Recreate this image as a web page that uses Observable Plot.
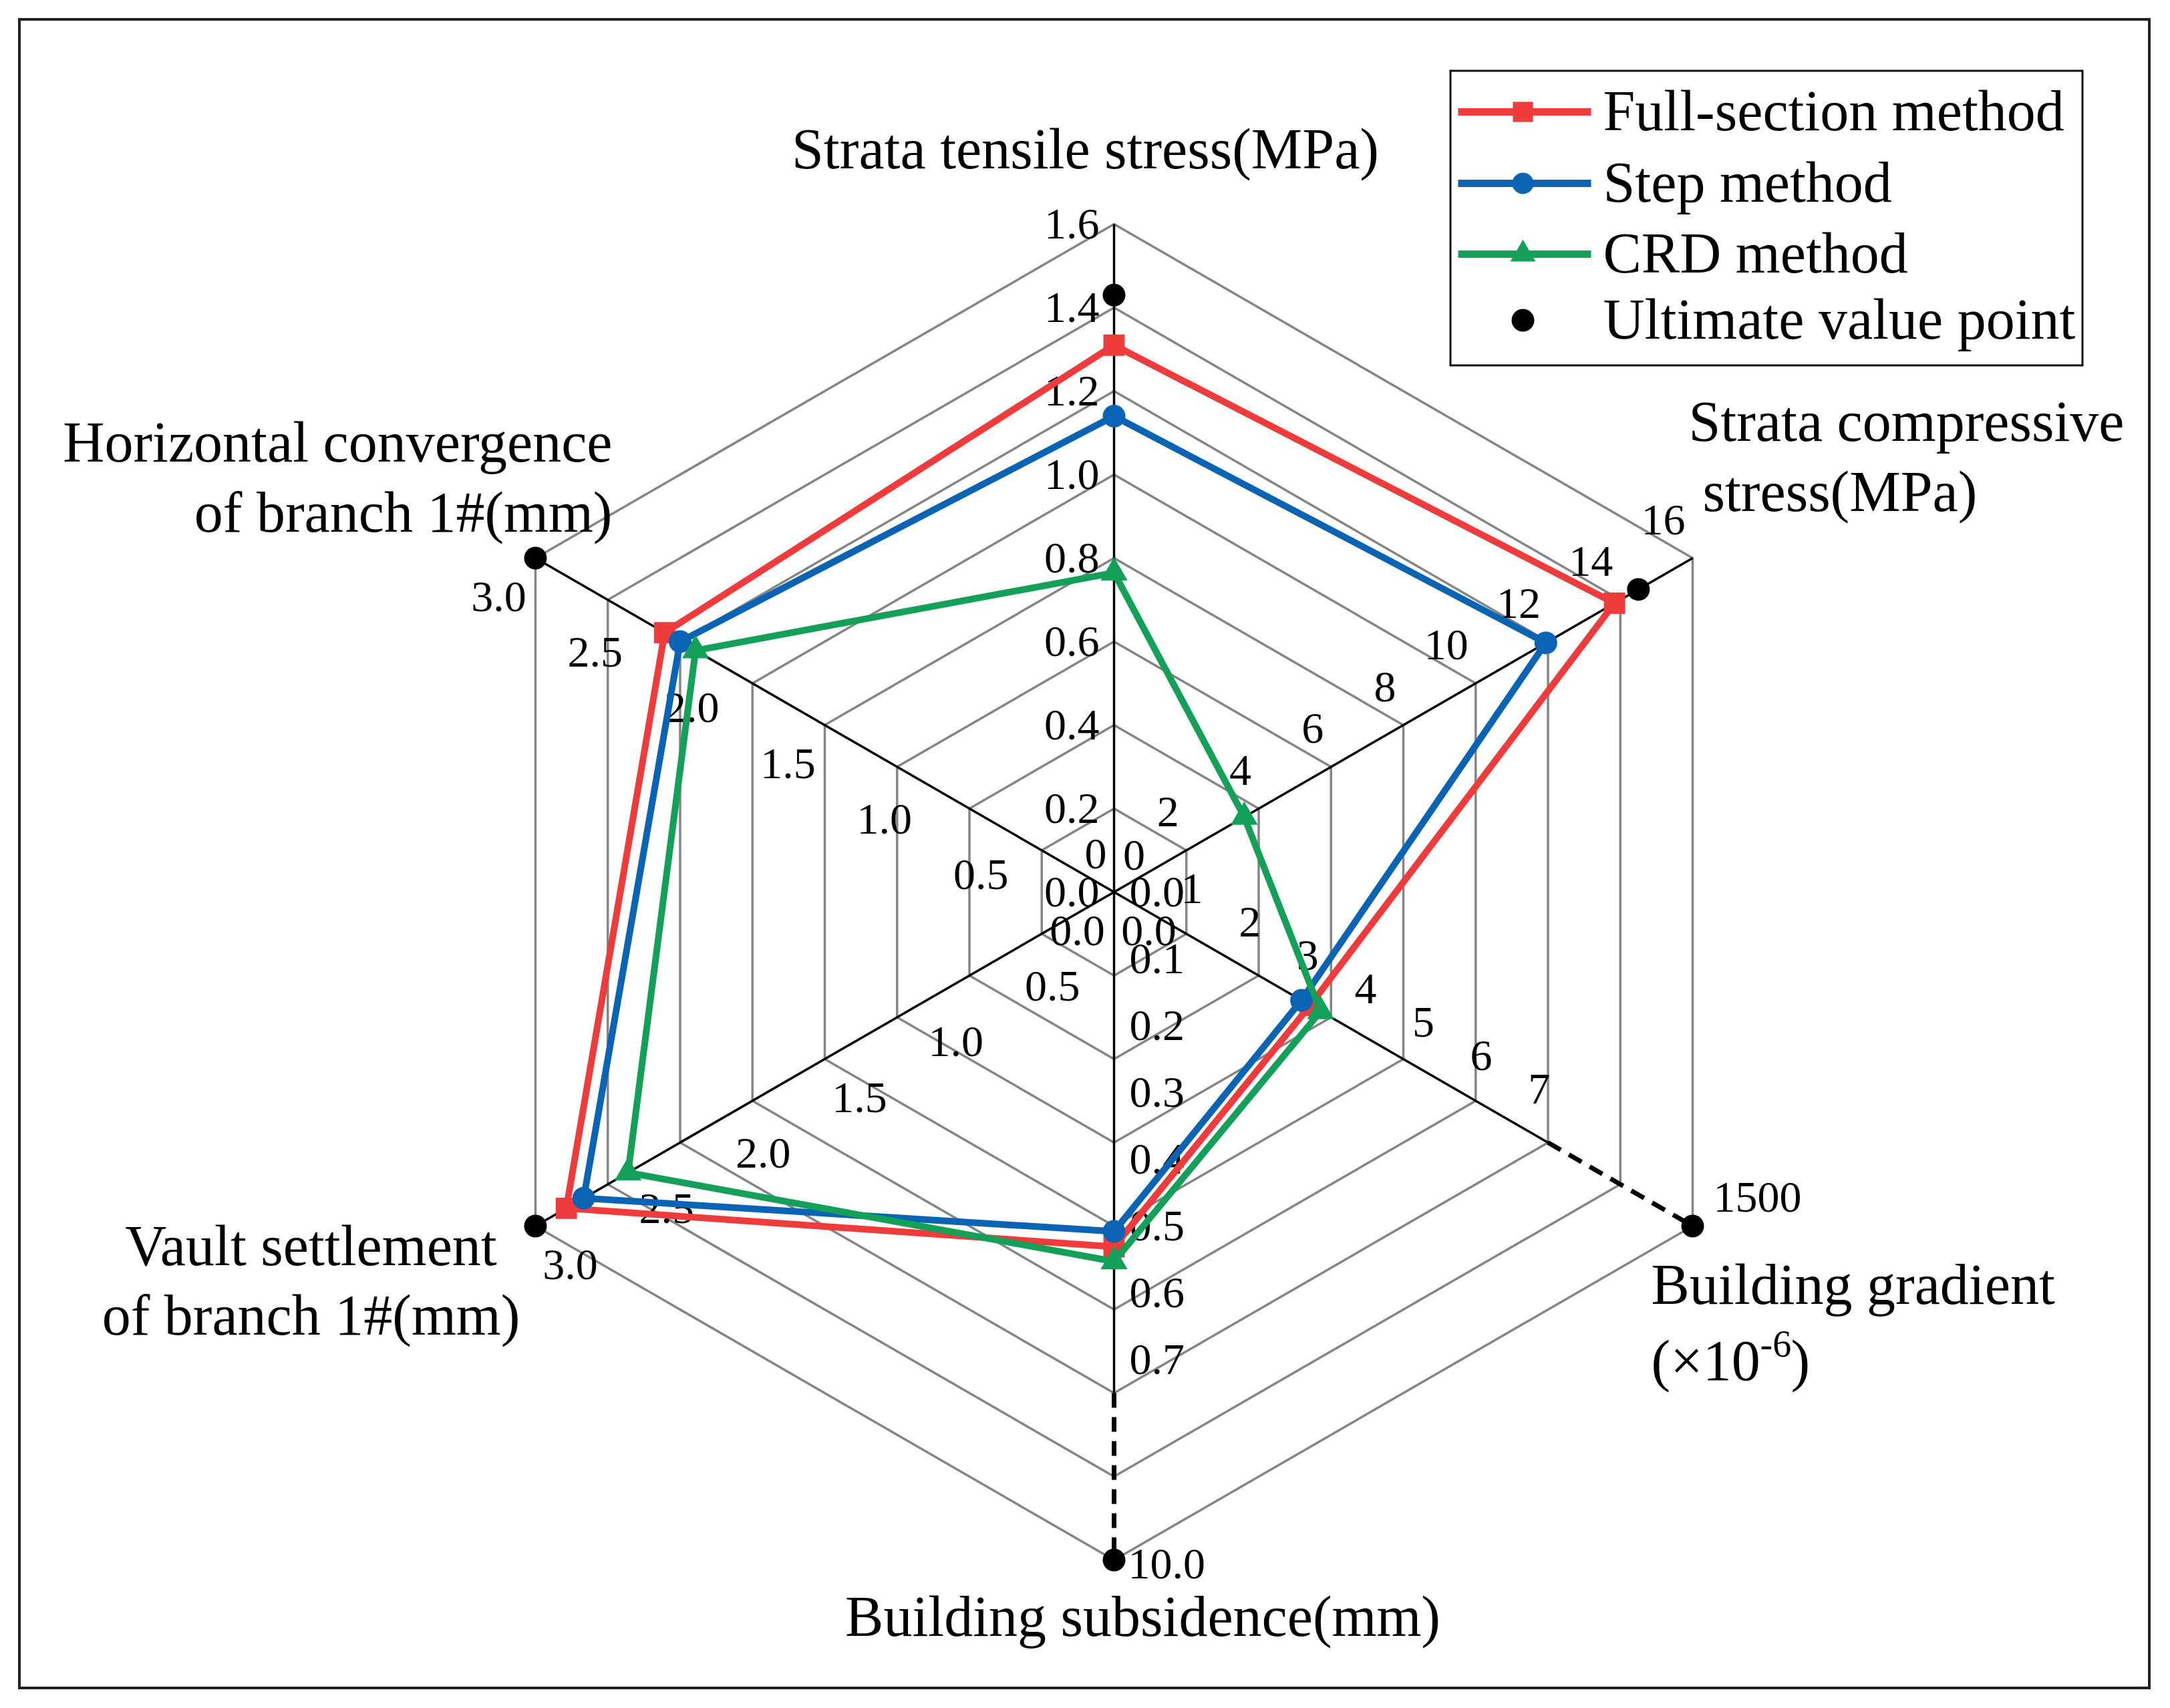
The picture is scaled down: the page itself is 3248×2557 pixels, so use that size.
<!DOCTYPE html>
<html>
<head>
<meta charset="utf-8">
<script src="https://cdn.jsdelivr.net/npm/d3@7"></script>
<script src="https://cdn.jsdelivr.net/npm/@observablehq/plot@0.6"></script>
<style>
  html, body { margin: 0; padding: 0; background: #ffffff; }
  #chart svg { display: block; }
</style>
</head>
<body>
<div id="chart"></div>
<script>
// ================= DATA =================
// Axes, clockwise from the top
const axisKeys = ["tensile", "compressive", "gradient", "subsidence", "vault", "horizontal"];
// value reached at the outer ring of each axis
const axisMax = [1.6, 16, 10, 1.0, 3.0, 3.0];

const seriesNames = ["Full-section method", "Step method", "CRD method"];
const fullSection = [1.31, 13.84, 3.39, 0.531, 2.84, 2.33];
const stepMethod  = [1.14, 11.94, 3.24, 0.508, 2.75, 2.25];
const crdMethod   = [0.765, 3.6, 3.57, 0.553, 2.52, 2.17];
const ultimateName = "Ultimate value point";
const ultimateValues = [1.43, 14.5, 1500, 10.0, 3.0, 3.0];

// tick values of each axis
const ticksTensile     = [0, 0.2, 0.4, 0.6, 0.8, 1.0, 1.2, 1.4, 1.6];
const ticksCompressive = [0, 2, 4, 6, 8, 10, 12, 14, 16];
const ticksGradient    = [0, 1, 2, 3, 4, 5, 6, 7];
const ticksSubsidence  = [0, 0.1, 0.2, 0.3, 0.4, 0.5, 0.6, 0.7];
const ticksVault       = [0, 0.5, 1.0, 1.5, 2.0, 2.5, 3.0];
const ticksHorizontal  = [0, 0.5, 1.0, 1.5, 2.0, 2.5, 3.0];
const tickFormats = [".1f", "d", "d", ".1f", ".1f", ".1f"];

// ================= LAYOUT =================
const W = 3248, H = 2557;
const CX = 1667, CY = 1335, RING = 125, NRINGS = 8;
const FONT = "'Liberation Serif', 'Times New Roman', serif";
const angles = [90, 30, -30, -90, -150, 150].map(d => d * Math.PI / 180);
const breakRing = [null, null, 6, 6, null, null]; // broken (dashed) part of an axis
const X = px => (px - CX) / RING;
const Y = py => (CY - py) / RING;
const ringOf = (i, v) => Math.min(v / axisMax[i], 1) * NRINGS;
const px = (i, r) => r * Math.cos(angles[i]);
const py = (i, r) => r * Math.sin(angles[i]);

const colors = ["#EE3B3B", "#0A63B3", "#15A05A"];
const symbols = ["square", "circle", "triangle"];
const symbolR = [18, 17, 15];
const seriesValues = [fullSection, stepMethod, crdMethod];

// grid hexagons
const grid = [];
for (let r = 1; r <= NRINGS; r++)
  for (let k = 0; k <= 6; k++) grid.push({r, x: px(k % 6, r), y: py(k % 6, r)});

// axis lines
const solidAxes = axisKeys.map((k, i) => ({x1: 0, y1: 0, x2: px(i, breakRing[i] ?? NRINGS), y2: py(i, breakRing[i] ?? NRINGS)}));
const dashedAxes = axisKeys.map((k, i) => i).filter(i => breakRing[i] != null)
  .map(i => ({x1: px(i, breakRing[i]), y1: py(i, breakRing[i]), x2: px(i, NRINGS), y2: py(i, NRINGS)}));

// tick label placement per axis (pixel offsets and anchors)
const tickSets = [ticksTensile, ticksCompressive, ticksGradient, ticksSubsidence, ticksVault, ticksHorizontal];
const tickPlace = [
  {dx: -22, dy: 0,   anchor: "end"},
  {dx: -11, dy: -57, anchor: "end"},
  {dx: 30,  dy: -55, anchor: "middle"},
  {dx: 23,  dy: 0,   anchor: "start"},
  {dx: 52,  dy: 58,  anchor: "middle"},
  {dx: -55, dy: 58,  anchor: "middle"}
];
const tickMarks = tickSets.map((ticks, i) => Plot.text(ticks, {
  x: v => px(i, ringOf(i, v)), y: v => py(i, ringOf(i, v)),
  text: v => d3.format(tickFormats[i])(v),
  dx: tickPlace[i].dx, dy: tickPlace[i].dy, textAnchor: tickPlace[i].anchor,
  fontSize: 66, fontFamily: FONT, fill: "#000"
}));

// labels of ultimate values lying on broken axes
const ultLabelPlace = [null, null, {dx: 31, dy: -43}, {dx: 21, dy: 6}, null, null];
const ultLabels = ultimateValues.map((v, i) => ({i, v})).filter(d => ultLabelPlace[d.i]);
const ultLabelMarks = ultLabels.map(d => Plot.text([d], {
  x: d => px(d.i, ringOf(d.i, d.v)), y: d => py(d.i, ringOf(d.i, d.v)),
  text: d => d.i === 2 ? String(d.v) : d3.format(".1f")(d.v),
  dx: ultLabelPlace[d.i].dx, dy: ultLabelPlace[d.i].dy, textAnchor: "start",
  fontSize: 66, fontFamily: FONT, fill: "#000"
}));

// axis titles (baseline positions, in px)
const titles = [
  {t: "Strata tensile stress(MPa)", x: 1624, y: 251, a: "middle", s: 86},
  {t: "Strata compressive", x: 2527, y: 659, a: "start", s: 86},
  {t: "stress(MPa)", x: 2548, y: 764, a: "start", s: 86},
  {t: "Building gradient", x: 2471, y: 1951, a: "start", s: 86},
  {t: "(×10", x: 2471, y: 2065, a: "start", s: 86},
  {t: "-6", x: 2634, y: 2030, a: "start", s: 56},
  {t: ")", x: 2680, y: 2065, a: "start", s: 86},
  {t: "Building subsidence(mm)", x: 1710, y: 2448, a: "middle", s: 86},
  {t: "Vault settlement", x: 465, y: 1893, a: "middle", s: 86},
  {t: "of branch 1#(mm)", x: 465, y: 1997, a: "middle", s: 86},
  {t: "Horizontal convergence", x: 916, y: 690, a: "end", s: 86},
  {t: "of branch 1#(mm)", x: 916, y: 795, a: "end", s: 86}
];
const titleMarks = titles.map(d => Plot.text([d], {
  x: d => X(d.x), y: d => Y(d.y), text: "t", textAnchor: d.a, lineAnchor: "bottom",
  fontSize: d.s, fontFamily: FONT, fill: "#000"
}));

// series
const seriesMarks = [];
seriesNames.forEach((name, s) => {
  const vals = seriesValues[s];
  const pts = [0, 1, 2, 3, 4, 5, 0].map(i => ({series: name, x: px(i, ringOf(i, vals[i])), y: py(i, ringOf(i, vals[i]))}));
  seriesMarks.push(Plot.line(pts, {x: "x", y: "y", stroke: colors[s], strokeWidth: 10, strokeLinejoin: "round"}));
  seriesMarks.push(Plot.dot(pts.slice(0, 6), {x: "x", y: "y", symbol: symbols[s], r: symbolR[s], fill: colors[s], stroke: "none"}));
});
const ultimatePts = ultimateValues.map((v, i) => ({x: px(i, ringOf(i, v)), y: py(i, ringOf(i, v))}));

// legend (px layout)
const legendBox = {x1: X(2171), x2: X(3117), y1: Y(106), y2: Y(547)};
const legendRows = [167, 274, 380, 479];
const legendItems = seriesNames.map((n, s) => ({name: n, s, y: legendRows[s]}));
const legendMarks = [
  Plot.rect([legendBox], {x1: "x1", x2: "x2", y1: "y1", y2: "y2", fill: "white", stroke: "#111", strokeWidth: 3}),
  Plot.link(legendItems, {x1: X(2182), x2: X(2381), y1: d => Y(d.y), y2: d => Y(d.y), stroke: d => colors[d.s], strokeWidth: 11}),
  ...legendItems.map(d => Plot.dot([d], {x: X(2279), y: Y(d.y), symbol: symbols[d.s], r: symbolR[d.s] - 1, fill: colors[d.s]})),
  Plot.dot([0], {x: X(2279), y: Y(legendRows[3]), r: 17, fill: "black"}),
  Plot.text([...seriesNames, ultimateName], {x: X(2399), y: (d, i) => Y(legendRows[i]), text: d => d, textAnchor: "start",
    fontSize: 86, fontFamily: FONT, fill: "#000"})
];

const chart = Plot.plot({
  width: W, height: H, margin: 0,
  x: {domain: [X(0), X(W)], axis: null},
  y: {domain: [Y(H), Y(0)], axis: null},
  style: {background: "white", fontFamily: FONT},
  marks: [
    Plot.rect([{x1: X(29), x2: X(3217), y1: Y(29), y2: Y(2527)}], {x1: "x1", x2: "x2", y1: "y1", y2: "y2", fill: "white", stroke: "#222", strokeWidth: 4}),
    Plot.line(grid, {x: "x", y: "y", z: "r", stroke: "#858585", strokeWidth: 3.5}),
    Plot.link(solidAxes, {x1: "x1", y1: "y1", x2: "x2", y2: "y2", stroke: "#000", strokeWidth: 3.5}),
    Plot.link(dashedAxes, {x1: "x1", y1: "y1", x2: "x2", y2: "y2", stroke: "#000", strokeWidth: 7, strokeDasharray: "22,14"}),
    ...tickMarks,
    ...ultLabelMarks,
    ...titleMarks,
    ...seriesMarks,
    Plot.dot(ultimatePts, {x: "x", y: "y", r: 17, fill: "black"}),
    ...legendMarks
  ]
});
document.getElementById("chart").appendChild(chart);
</script>
</body>
</html>
